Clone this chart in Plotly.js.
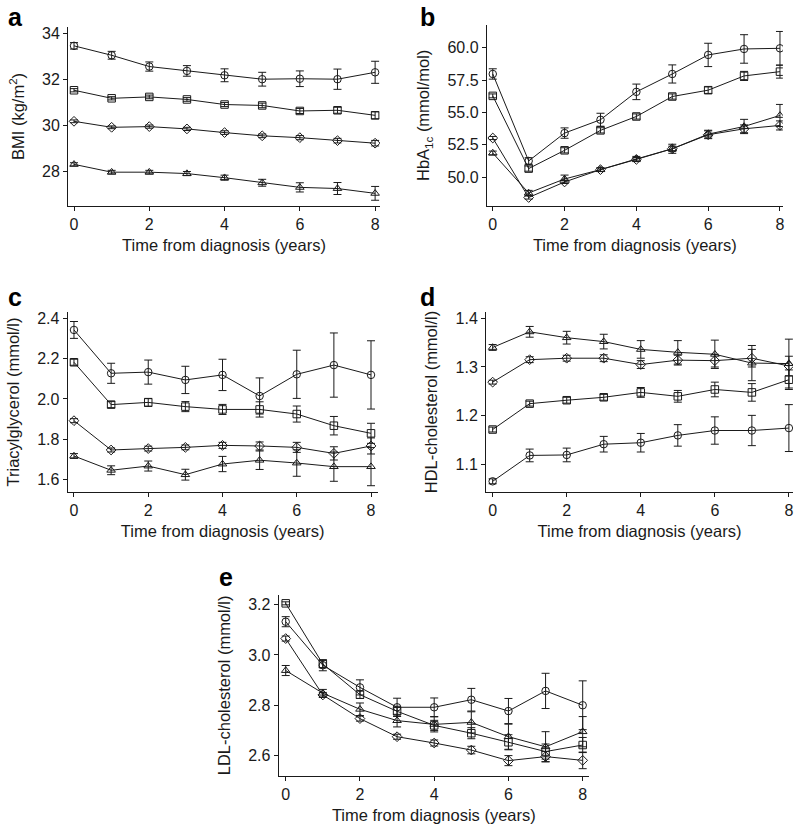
<!DOCTYPE html>
<html>
<head>
<meta charset="utf-8">
<script src="https://cdn.plot.ly/plotly-3.0.1.min.js"></script>
<style>
  html, body { margin: 0; padding: 0; background: #fff; }
  #chart { width: 798px; height: 827px; }
</style>
</head>
<body>
<div id="chart"></div>
<script>
// time axis (years from diagnosis)
const years = [0, 1, 2, 3, 4, 5, 6, 7, 8];

// a: BMI
const bmiCircle = [33.45, 33.04, 32.55, 32.36, 32.17, 32.0, 32.02, 32.0, 32.3];
const bmiCircleErr = [0.14, 0.17, 0.2, 0.23, 0.28, 0.3, 0.34, 0.44, 0.48];
const bmiSquare = [31.52, 31.17, 31.23, 31.12, 30.9, 30.86, 30.62, 30.65, 30.43];
const bmiSquareErr = [0.07, 0.07, 0.08, 0.08, 0.09, 0.1, 0.11, 0.13, 0.15];
const bmiDiamond = [30.17, 29.91, 29.94, 29.84, 29.68, 29.54, 29.46, 29.33, 29.22];
const bmiDiamondErr = [0.06, 0.06, 0.07, 0.07, 0.08, 0.08, 0.09, 0.1, 0.12];
const bmiTriangle = [28.3, 27.96, 27.96, 27.9, 27.72, 27.5, 27.3, 27.25, 27.04];
const bmiTriangleErr = [0.07, 0.08, 0.08, 0.09, 0.11, 0.15, 0.2, 0.26, 0.3];

// b: HbA1c
const hbaCircle = [57.97, 51.26, 53.41, 54.44, 56.59, 57.97, 59.44, 59.9, 59.95];
const hbaCircleErr = [0.4, 0.25, 0.4, 0.5, 0.6, 0.7, 0.9, 1.1, 1.3];
const hbaSquare = [56.28, 50.67, 52.08, 53.62, 54.69, 56.23, 56.72, 57.82, 58.15];
const hbaSquareErr = [0.15, 0.2, 0.2, 0.2, 0.2, 0.2, 0.25, 0.35, 0.5];
const hbaDiamond = [53.03, 48.44, 49.64, 50.59, 51.38, 52.2, 53.28, 53.74, 54.0];
const hbaDiamondErr = [0.12, 0.12, 0.12, 0.13, 0.15, 0.2, 0.3, 0.3, 0.35];
const hbaTriangle = [51.87, 48.79, 49.87, 50.59, 51.41, 52.2, 53.33, 53.92, 54.77];
const hbaTriangleErr = [0.15, 0.2, 0.3, 0.15, 0.2, 0.35, 0.3, 0.55, 0.85];

// c: triacylglycerol
const tgCircle = [2.344, 2.128, 2.134, 2.095, 2.12, 2.015, 2.123, 2.169, 2.12];
const tgCircleErr = [0.042, 0.05, 0.06, 0.068, 0.078, 0.09, 0.12, 0.16, 0.17];
const tgSquare = [2.183, 1.972, 1.983, 1.962, 1.948, 1.948, 1.925, 1.867, 1.829];
const tgSquareErr = [0.015, 0.015, 0.02, 0.025, 0.025, 0.038, 0.04, 0.046, 0.05];
const tgDiamond = [1.892, 1.746, 1.753, 1.759, 1.769, 1.766, 1.759, 1.729, 1.766];
const tgDiamondErr = [0.01, 0.01, 0.012, 0.012, 0.015, 0.02, 0.025, 0.033, 0.04];
const tgTriangle = [1.716, 1.645, 1.666, 1.623, 1.676, 1.695, 1.681, 1.663, 1.663];
const tgTriangleErr = [0.012, 0.022, 0.025, 0.027, 0.038, 0.046, 0.066, 0.073, 0.095];

// d: HDL-cholesterol
const hdlCircle = [1.066, 1.119, 1.12, 1.142, 1.145, 1.16, 1.17, 1.17, 1.175];
const hdlCircleErr = [0.005, 0.013, 0.014, 0.016, 0.019, 0.022, 0.028, 0.031, 0.048];
const hdlSquare = [1.172, 1.225, 1.232, 1.238, 1.248, 1.24, 1.254, 1.248, 1.274];
const hdlSquareErr = [0.005, 0.005, 0.006, 0.006, 0.01, 0.012, 0.015, 0.018, 0.02];
const hdlDiamond = [1.269, 1.315, 1.318, 1.318, 1.305, 1.314, 1.313, 1.318, 1.302];
const hdlDiamondErr = [0.004, 0.006, 0.006, 0.007, 0.008, 0.01, 0.013, 0.018, 0.02];
const hdlTriangle = [1.34, 1.372, 1.36, 1.352, 1.336, 1.33, 1.326, 1.308, 1.307];
const hdlTriangleErr = [0.006, 0.011, 0.013, 0.015, 0.018, 0.024, 0.029, 0.036, 0.05];

// e: LDL-cholesterol
const ldlCircle = [3.132, 2.959, 2.871, 2.792, 2.792, 2.822, 2.777, 2.857, 2.8];
const ldlCircleErr = [0.02, 0.022, 0.03, 0.036, 0.037, 0.045, 0.05, 0.07, 0.097];
const ldlSquare = [3.205, 2.964, 2.842, 2.776, 2.72, 2.689, 2.653, 2.616, 2.642];
const ldlSquareErr = [0.006, 0.015, 0.015, 0.02, 0.02, 0.022, 0.03, 0.03, 0.03];
const ldlDiamond = [3.065, 2.841, 2.747, 2.675, 2.65, 2.622, 2.58, 2.596, 2.581];
const ldlDiamondErr = [0.01, 0.01, 0.01, 0.01, 0.012, 0.015, 0.02, 0.02, 0.033];
const ldlTriangle = [2.938, 2.848, 2.784, 2.739, 2.724, 2.732, 2.675, 2.635, 2.695];
const ldlTriangleErr = [0.02, 0.015, 0.025, 0.025, 0.03, 0.042, 0.05, 0.06, 0.06];

const ink = '#1a1a1a';
const fontFamily = 'Liberation Sans, Arial, Helvetica, sans-serif';

// one trace per group
function groupTrace(y, err, symbol, axisIdx) {
    const suffix = axisIdx === 1 ? '' : axisIdx;
    return {
        x: years,
        y: y,
        type: 'scatter',
        mode: 'lines+markers',
        line: { color: ink, width: 1 },
        marker: { symbol: symbol, size: 7.5, color: ink, line: { color: ink, width: 1 } },
        error_y: { type: 'data', array: err, visible: true, color: ink, thickness: 1, width: 4 },
        xaxis: 'x' + suffix,
        yaxis: 'y' + suffix,
        showlegend: false,
        hoverinfo: 'x+y'
    };
}

const panels = [
    [[bmiCircle, bmiCircleErr], [bmiSquare, bmiSquareErr], [bmiDiamond, bmiDiamondErr], [bmiTriangle, bmiTriangleErr]],
    [[hbaCircle, hbaCircleErr], [hbaSquare, hbaSquareErr], [hbaDiamond, hbaDiamondErr], [hbaTriangle, hbaTriangleErr]],
    [[tgCircle, tgCircleErr], [tgSquare, tgSquareErr], [tgDiamond, tgDiamondErr], [tgTriangle, tgTriangleErr]],
    [[hdlCircle, hdlCircleErr], [hdlSquare, hdlSquareErr], [hdlDiamond, hdlDiamondErr], [hdlTriangle, hdlTriangleErr]],
    [[ldlCircle, ldlCircleErr], [ldlSquare, ldlSquareErr], [ldlDiamond, ldlDiamondErr], [ldlTriangle, ldlTriangleErr]]
];
const symbols = ['circle-open', 'square-open', 'diamond-open', 'triangle-up-open'];

const traces = [];
panels.forEach((groups, p) => {
    groups.forEach((g, i) => {
        traces.push(groupTrace(g[0], g[1], symbols[i], p + 1));
    });
});

// common axis styling
function xAxis(domain, range, anchor) {
    return {
        domain: domain, range: range, anchor: anchor,
        tickvals: [0, 2, 4, 6, 8],
        showline: true, linecolor: ink, linewidth: 1,
        ticks: 'outside', ticklen: 4, tickcolor: ink,
        showgrid: false, zeroline: false,
        tickfont: { size: 16, color: ink },
        title: { text: 'Time from diagnosis (years)', font: { size: 16.5, color: ink }, standoff: 7 }
    };
}
function yAxis(domain, range, anchor, tickvals, fmt, title) {
    return {
        domain: domain, range: range, anchor: anchor,
        tickvals: tickvals, tickformat: fmt,
        showline: true, linecolor: ink, linewidth: 1,
        ticks: 'outside', ticklen: 4, tickcolor: ink,
        showgrid: false, zeroline: false,
        tickfont: { size: 16, color: ink },
        title: { text: title, font: { size: 16.5, color: ink }, standoff: 13 }
    };
}

const layout = {
    width: 798,
    height: 827,
    margin: { l: 0, r: 0, t: 0, b: 0 },
    paper_bgcolor: '#fff',
    plot_bgcolor: '#fff',
    font: { family: fontFamily, color: ink },
    showlegend: false,

    xaxis: xAxis([0.0852, 0.4762], [-0.16, 8.13], 'y'),
    yaxis: yAxis([0.7509, 0.9674], [26.49, 34.27], 'x', [28, 30, 32, 34], 'd', 'BMI (kg/m<sup>2</sup>)'),

    xaxis2: xAxis([0.610, 0.981], [-0.167, 8.08], 'y2'),
    yaxis2: yAxis([0.7513, 0.9698], [47.81, 61.75], 'x2', [50, 52.5, 55, 57.5, 60], '.1f', 'HbA<sub>1c</sub> (mmol/mol)'),

    xaxis3: xAxis([0.0848, 0.4733], [-0.17, 8.18], 'y3'),
    yaxis3: yAxis([0.4054, 0.6224], [1.538, 2.432], 'x3', [1.6, 1.8, 2.0, 2.2, 2.4], '.1f', 'Triacylglycerol (mmol/l)'),

    xaxis4: xAxis([0.609, 0.9937], [-0.18, 8.11], 'y4'),
    yaxis4: yAxis([0.4054, 0.6224], [1.0447, 1.412], 'x4', [1.1, 1.2, 1.3, 1.4], '.1f', 'HDL-cholesterol (mmol/l)'),

    xaxis5: xAxis([0.3492, 0.7381], [-0.19, 8.17], 'y5'),
    yaxis5: yAxis([0.062, 0.2805], [2.52, 3.238], 'x5', [2.6, 2.8, 3.0, 3.2], '.1f', 'LDL-cholesterol (mmol/l)'),

    // panel letters
    annotations: [
        ['a', 15, 17], ['b', 427, 17], ['c', 15, 297], ['d', 427, 297], ['e', 226, 577]
    ].map(([t, px, py]) => ({
        text: '<b>' + t + '</b>',
        xref: 'paper', yref: 'paper',
        x: px / 798, y: 1 - py / 827,
        xanchor: 'center', yanchor: 'middle',
        showarrow: false,
        font: { size: 25, color: '#000', family: fontFamily }
    }))
};

Plotly.newPlot('chart', traces, layout, { staticPlot: true, displayModeBar: false });
</script>
</body>
</html>
